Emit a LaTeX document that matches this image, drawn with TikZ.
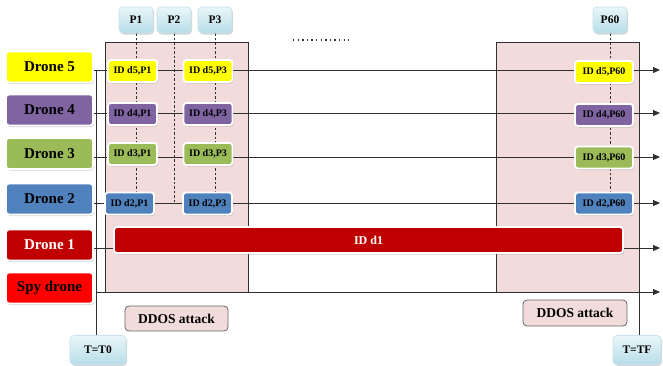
\documentclass[tikz,border=0pt]{standalone}
\usepackage{fontspec}
\setmainfont{Liberation Serif}
\usetikzlibrary{arrows.meta,shadows,calc}
\pgfdeclarelayer{bg}
\pgfdeclarelayer{lines}
\pgfsetlayers{bg,lines,main}

\definecolor{cyellow}{HTML}{FFFF00}
\definecolor{cpurple}{HTML}{8064A2}
\definecolor{cgreen}{HTML}{9BBB59}
\definecolor{cblue}{HTML}{4F81BD}
\definecolor{cdarkred}{HTML}{C00000}
\definecolor{cred}{HTML}{FF0000}
\definecolor{cpink}{HTML}{F2DCDB}
\definecolor{cline}{HTML}{303030}
\definecolor{clighttop}{HTML}{EAF6F9}
\definecolor{clightbot}{HTML}{B7DDE8}
\definecolor{clightedge}{HTML}{C6E3EC}

\tikzset{
  softshadow/.style={drop shadow={opacity=0.35,shadow xshift=1pt,shadow yshift=-1.5pt}},
  dronebox/.style={rounded corners=3pt,draw=white,line width=1.8pt,softshadow,
    minimum width=87pt,minimum height=31pt,inner sep=0pt,
    font=\bfseries\fontsize{15}{17}\selectfont},
  idbox/.style={rounded corners=3pt,draw=white,line width=1.8pt,softshadow,
    minimum width=49pt,minimum height=22pt,inner sep=0pt,
    font=\bfseries\fontsize{10}{12}\selectfont},
  pbox/.style={rounded corners=4pt,draw=clightedge,line width=0.8pt,
    top color=clighttop,bottom color=clightbot,softshadow,
    minimum width=34pt,minimum height=26pt,inner sep=0pt,
    font=\bfseries\fontsize{11.5}{13}\selectfont},
  ddosbox/.style={rounded corners=4pt,draw=black!60,line width=0.8pt,fill=cpink,
    minimum width=103pt,minimum height=25pt,inner sep=0pt,
    font=\bfseries\fontsize{13.5}{15}\selectfont},
  timeline/.style={draw=cline,line width=0.8pt},
  timearrow/.style={timeline,-{Triangle[length=7pt,width=6pt]}},
  pmark/.style={draw=cline,line width=0.7pt,dash pattern=on 2.5pt off 2pt},
  zone/.style={fill=cpink,draw=cline,line width=0.8pt},
}

\begin{document}
\begin{tikzpicture}[x=1pt,y=-1pt]
\useasboundingbox (0,0) rectangle (663,365);

% period markers
\node[pbox] (p1) at (136,20) {P1};
\node[pbox] (p2) at (174,20) {P2};
\node[pbox] (p3) at (215,20) {P3};
\node[pbox] (p60) at (610,20) {P60};

% drones
\node[dronebox,fill=cyellow] (d5) at (49.5,67) {Drone 5};
\node[dronebox,fill=cpurple] (d4) at (49.5,110) {Drone 4};
\node[dronebox,fill=cgreen] (d3) at (49.5,153.5) {Drone 3};
\node[dronebox,fill=cblue] (d2) at (49.5,199) {Drone 2};
\node[dronebox,fill=cdarkred,text=white] (d1) at (49.5,245) {Drone 1};
\node[dronebox,fill=cred] (spy) at (49.5,288) {Spy drone};

% identifiers per period
\node[idbox,fill=cyellow] (d5p1) at (132.5,71) {ID d5,P1};
\node[idbox,fill=cyellow] (d5p3) at (208,71) {ID d5,P3};
\node[idbox,fill=cyellow,minimum width=58pt] (d5p60) at (604,72) {ID d5,P60};
\node[idbox,fill=cpurple] (d4p1) at (132.5,114) {ID d4,P1};
\node[idbox,fill=cpurple] (d4p3) at (208,114) {ID d4,P3};
\node[idbox,fill=cpurple,minimum width=58pt] (d4p60) at (604,115) {ID d4,P60};
\node[idbox,fill=cgreen] (d3p1) at (132.5,154) {ID d3,P1};
\node[idbox,fill=cgreen] (d3p3) at (208,154) {ID d3,P3};
\node[idbox,fill=cgreen,minimum width=58pt] (d3p60) at (604,157.5) {ID d3,P60};
\node[idbox,fill=cblue] (d2p1) at (129.5,203.5) {ID d2,P1};
\node[idbox,fill=cblue] (d2p3) at (207.5,203.5) {ID d2,P3};
\node[idbox,fill=cblue,minimum width=58pt] (d2p60) at (604,203.5) {ID d2,P60};

% drone 1 keeps a single identifier
\node[idbox,fill=cdarkred,text=white,minimum width=509pt,minimum height=26pt,
      font=\bfseries\fontsize{12}{14}\selectfont] (d1id) at (368.5,240) {ID d1};

% attack labels and time bounds
\node[ddosbox] (atk1) at (176.5,318.5) {DDOS attack};
\node[ddosbox,minimum width=104pt,minimum height=26pt] (atk2) at (575,313) {DDOS attack};
\node[pbox,minimum width=56pt,minimum height=29pt] (t0) at (98,350) {T=T0};
\node[pbox,minimum width=48pt,minimum height=29pt] (tf) at (637,350) {T=TF};

% arrow ends and corners
\coordinate (e5) at (660,70);
\coordinate (e4) at (660,113);
\coordinate (e3) at (660,157);
\coordinate (e2) at (660,203);
\coordinate (e1) at (660,248);
\coordinate (es) at (660,292);
\coordinate (axtop) at (96,70);
\coordinate (axspy) at (96,292);
\coordinate (dotsA) at (293,40);
\coordinate (dotsB) at (349,40);

\begin{pgfonlayer}{bg}
  \draw[zone] (105,42) rectangle (248,292);
  \draw[zone] (496,42) rectangle (639,292);
\end{pgfonlayer}

\begin{pgfonlayer}{lines}
  % period marker lines
  \draw[pmark] (p1.south) -- (p1.south |- d2p1.north);
  \draw[pmark] (p2.south) -- (p2.south |- e2);
  \draw[pmark] (p3.south) -- (p3.south |- d2p3.north);
  \draw[pmark] (p60.south) -- (p60.south |- d2p60.north);
  % time axis and bounds
  \draw[timeline] (axtop) -- (t0.north -| axtop);
  \draw[timeline] (639,292) -- (tf.north -| 639,0);
  % drone timelines
  \draw[timearrow] (d5.east |- e5) -- (e5);
  \draw[timearrow] (d4.east |- e4) -- (e4);
  \draw[timearrow] (d3.east |- e3) -- (e3);
  \draw[timearrow] (d2.east |- e2) -- (e2);
  \draw[timearrow] (d1.east |- e1) -- (e1);
  \draw[timearrow] (axspy) -- (es);
  % continuation dots
  \draw[draw=cline,line width=1.5pt,dash pattern=on 1.4pt off 3.2pt] (dotsA) -- (dotsB);
\end{pgfonlayer}
\end{tikzpicture}
\end{document}
